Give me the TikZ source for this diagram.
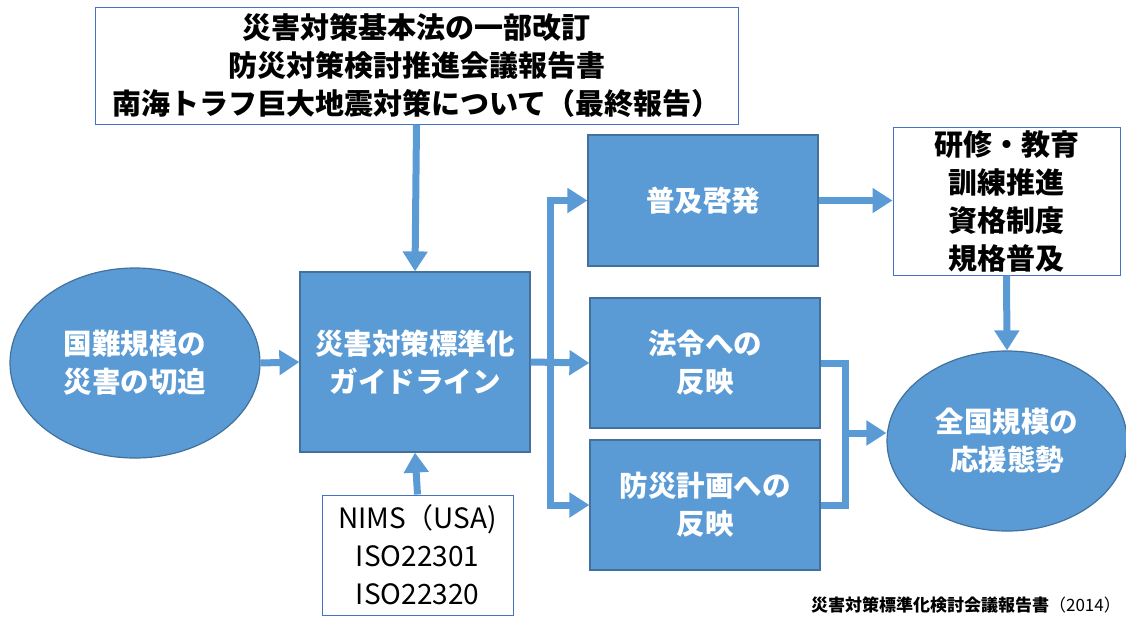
\documentclass[tikz,border=0pt]{standalone}
\usepackage{fontspec}
\setmainfont{Noto Sans CJK JP}
\usetikzlibrary{arrows.meta,shapes.geometric}
\definecolor{fillblue}{HTML}{5B9BD5}
\definecolor{edgeblue}{HTML}{41719C}
\definecolor{lineblue}{HTML}{4472C4}
\tikzset{
  bluebox/.style={draw=edgeblue,line width=1.2pt,fill=fillblue,text=white,font=\fontsize{28.5}{38}\selectfont\bfseries,align=center,inner sep=0pt},
  whitebox/.style={draw=lineblue,line width=1pt,fill=white,text=black,font=\fontsize{29}{38}\selectfont\bfseries,align=center,inner sep=0pt},
  blueell/.style={ellipse,draw=edgeblue,line width=1.2pt,fill=fillblue,text=white,font=\fontsize{28.5}{38}\selectfont\bfseries,align=center,inner sep=0pt},
  conn/.style={draw=fillblue,line width=7pt,line join=miter},
  arr/.style={conn,-{Triangle[length=20pt,width=24pt]}},
}
\begin{document}
\begin{tikzpicture}[x=1pt,y=-1pt]
\useasboundingbox (0,0) rectangle (1126,619);
\node[whitebox,minimum width=643pt,minimum height=117pt] (top) at (416.5,65.5) {災害対策基本法の一部改訂\\防災対策検討推進会議報告書\\南海トラフ巨大地震対策について（最終報告）};
\node[bluebox,minimum width=230pt,minimum height=180pt] (center) at (415,362) {災害対策標準化\\ガイドライン};
\node[blueell,minimum width=250pt,minimum height=190pt] (elL) at (135,363) {国難規模の\\災害の切迫};
\node[whitebox,font=\fontsize{28}{38}\selectfont,minimum width=191pt,minimum height=120pt] (nims) at (417.5,555) {NIMS（USA)\\ISO22301\\ISO22320};
\node[bluebox,minimum width=230pt,minimum height=131pt] (fukyu) at (703,200.5) {普及啓発};
\node[bluebox,minimum width=230pt,minimum height=130pt] (hourei) at (705,363) {法令への\\反映};
\node[bluebox,minimum width=230pt,minimum height=130pt] (bousai) at (705,505) {防災計画への\\反映};
\node[whitebox,minimum width=227pt,minimum height=148pt] (rbox) at (1006.5,201) {研修・教育\\訓練推進\\資格制度\\規格普及};
\node[blueell,minimum width=240pt,minimum height=180pt] (elR) at (1007,441) {全国規模の\\応援態勢};
\node[anchor=east,font=\fontsize{17}{20}\selectfont\bfseries,inner sep=0pt] (cap) at (1121,605) {災害対策標準化検討会議報告書\mdseries（2014）};
\coordinate (j) at (550,363);
\coordinate (k) at (845,433);
\draw[arr] (top.south) -- (center.north);
\draw[arr] (elL.east) -- (center.west);
\draw[arr] (nims.north) -- (center.south);
\draw[arr] (center.east) -- (hourei.west);
\draw[arr] (j) |- (fukyu.west);
\draw[arr] (j) |- (bousai.west);
\draw[arr] (fukyu.east) -- (rbox.west |- fukyu.east);
\draw[arr] (rbox.south) -- (elR.north);
\draw[conn] (hourei.east) -| (k);
\draw[conn] (bousai.east) -| (k);
\draw[arr] (k) -- (elR.west |- k);
\end{tikzpicture}
\end{document}
